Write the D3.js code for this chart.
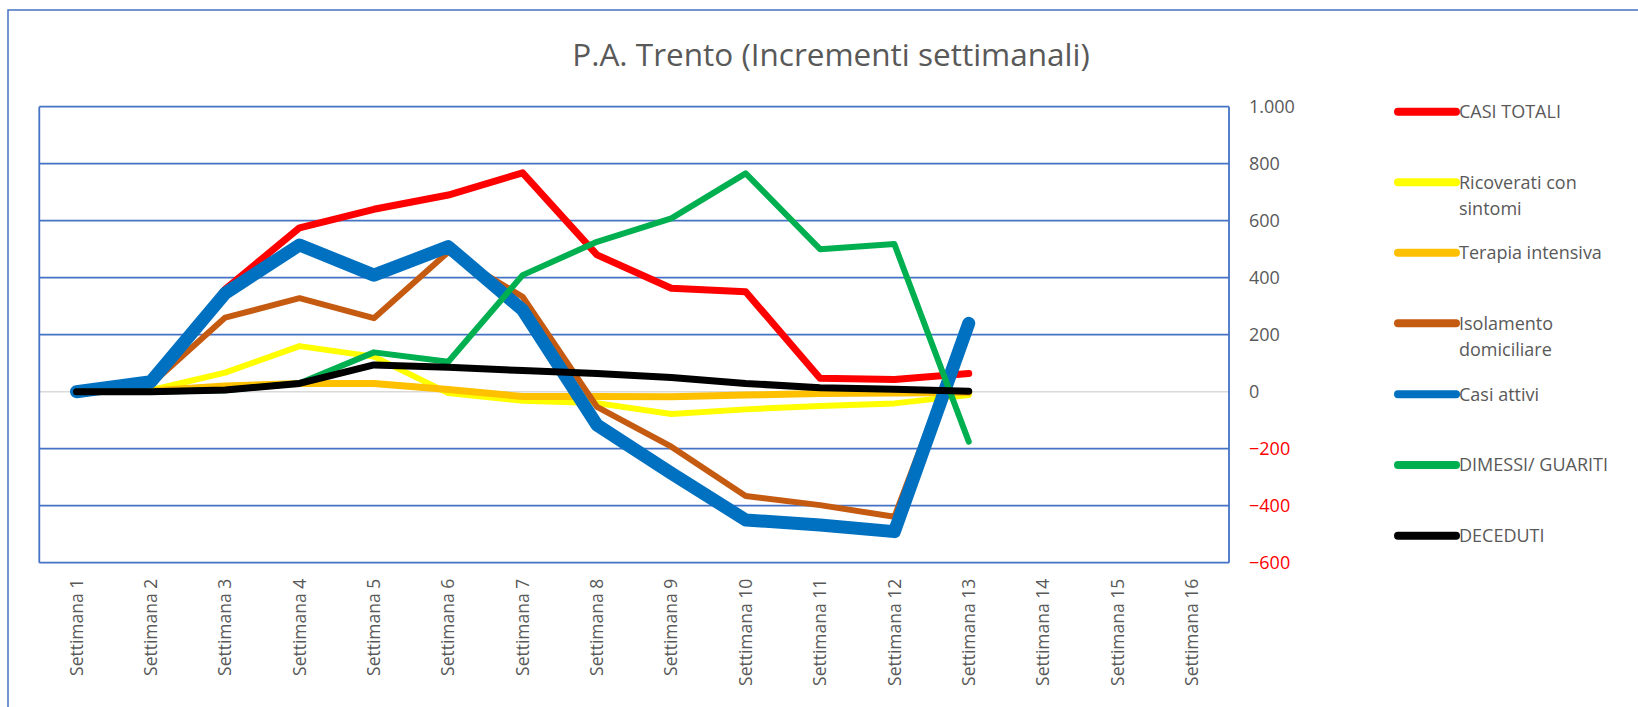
<!DOCTYPE html>
<html>
<head>
<meta charset="utf-8">
<script src="https://cdn.jsdelivr.net/npm/d3@7"></script>
<style>
  body { margin: 0; background: #fff; }
  svg { display: block; font-family: "Open Sans", sans-serif; }
</style>
</head>
<body>
<svg id="chart" width="1638" height="707"></svg>
<script>
// week labels (only the first 13 have data)
const weeks = [
  "Settimana 1", "Settimana 2", "Settimana 3", "Settimana 4",
  "Settimana 5", "Settimana 6", "Settimana 7", "Settimana 8",
  "Settimana 9", "Settimana 10", "Settimana 11", "Settimana 12",
  "Settimana 13", "Settimana 14", "Settimana 15", "Settimana 16"
];
const yTicks = [1000, 800, 600, 400, 200, 0, -200, -400, -600];

const casiTotali = [0, 30, 360, 575, 640, 690, 768, 480, 363, 351, 47, 43, 64];
const ricoverati = [0, 5, 67, 160, 123, -5, -32, -40, -78, -62, -50, -41, -12];
const terapia = [0, 3, 20, 29, 29, 8, -17, -17, -18, -12, -6, -5, -3];
const isolamento = [0, 25, 260, 328, 258, 490, 333, -53, -193, -366, -398, -439, 245];
const casiAttivi = [0, 35, 345, 515, 409, 509, 287, -117, -286, -450, -468, -491, 240];
const dimessi = [0, 0, 5, 30, 138, 105, 409, 526, 608, 766, 500, 518, -175];
const deceduti = [0, 0, 6, 29, 94, 86, 74, 64, 50, 29, 14, 9, 2];

const seriesNames = ["CASI TOTALI", "Ricoverati con sintomi", "Terapia intensiva",
  "Isolamento domiciliare", "Casi attivi", "DIMESSI/ GUARITI", "DECEDUTI"];
const seriesValues = [casiTotali, ricoverati, terapia, isolamento, casiAttivi, dimessi, deceduti];
const colors = ["#FF0000", "#FFFF00", "#FFC000", "#C55A11", "#0070C0", "#00B050", "#000000"];
const widths = [7, 6, 7, 6, 13, 6, 7];

const svg = d3.select("svg#chart");
const blue = "#4472C4";
const textColor = "#595959";
const plot = { left: 39.3, right: 1229, top: 106.7, bottom: 562.7 };

// outer frame
svg.append("rect")
  .attr("x", 8).attr("y", 10)
  .attr("width", 1700).attr("height", 800)
  .attr("fill", "none").attr("stroke", blue).attr("stroke-width", 1.5);

svg.append("text")
  .attr("x", 831).attr("y", 66)
  .attr("text-anchor", "middle")
  .attr("font-size", 31.5)
  .attr("fill", textColor)
  .text("P.A. Trento (Incrementi settimanali)");

const x = d3.scaleBand().domain(weeks).range([plot.left, plot.right]);
const y = d3.scaleLinear().domain([-600, 1000]).range([plot.bottom, plot.top]);

// gridlines
svg.append("g")
  .selectAll("line")
  .data(yTicks)
  .join("line")
  .attr("x1", plot.left).attr("x2", plot.right)
  .attr("y1", (d) => y(d)).attr("y2", (d) => y(d))
  .attr("stroke", (d) => (d === 0 ? "#D9D9D9" : blue))
  .attr("stroke-width", (d) => (d === 0 ? 1.5 : 1.8));

// side borders of the plot
svg.append("g")
  .selectAll("line")
  .data([plot.left, plot.right])
  .join("line")
  .attr("x1", (d) => d).attr("x2", (d) => d)
  .attr("y1", plot.top).attr("y2", plot.bottom)
  .attr("stroke", blue).attr("stroke-width", 1.8);

// right y axis labels
const yAxis = svg.append("g")
  .attr("transform", `translate(${plot.right + 20},0)`)
  .call(d3.axisRight(y).tickValues(yTicks).tickSize(0)
    .tickFormat((d) => d3.format(",")(d).replace(/,/g, ".")));
yAxis.select(".domain").remove();
yAxis.selectAll("text")
  .attr("font-family", "Open Sans")
  .attr("font-size", 18)
  .attr("x", 0)
  .attr("fill", (d) => (d < 0 ? "#FF0000" : textColor));

// bottom axis labels, rotated
const xAxis = svg.append("g")
  .attr("transform", `translate(0,${plot.bottom})`)
  .call(d3.axisBottom(x).tickSize(0));
xAxis.select(".domain").remove();
xAxis.selectAll("text")
  .attr("font-family", "Open Sans")
  .attr("font-size", 17.5)
  .attr("fill", textColor)
  .attr("transform", "rotate(-90)")
  .attr("text-anchor", "end")
  .attr("x", -16)
  .attr("y", 0)
  .attr("dy", "0.35em");

// the series
const line = d3.line()
  .x((d, i) => x(weeks[i]) + x.bandwidth() / 2)
  .y((d) => y(d));

svg.append("g")
  .selectAll("path")
  .data(seriesValues)
  .join("path")
  .attr("d", line)
  .attr("fill", "none")
  .attr("stroke", (_, i) => colors[i])
  .attr("stroke-width", (_, i) => widths[i])
  .attr("stroke-linejoin", "round")
  .attr("stroke-linecap", "round");

// legend
const legendY = [111.7, 182.3, 252.7, 323.3, 394.3, 465, 535.7];
const legend = svg.append("g")
  .selectAll("g")
  .data(seriesNames)
  .join("g")
  .attr("transform", (_, i) => `translate(1398,${legendY[i]})`);
legend.append("line")
  .attr("x1", 0).attr("x2", 58)
  .attr("stroke", (_, i) => colors[i])
  .attr("stroke-width", 8)
  .attr("stroke-linecap", "round");
legend.append("text")
  .attr("x", 61)
  .attr("dy", "0.35em")
  .attr("font-size", 18)
  .attr("fill", textColor)
  .each(function (d) {
    // wrap long names on two lines, as in the source chart
    const parts = d === "Ricoverati con sintomi" ? ["Ricoverati con", "sintomi"]
      : d === "Isolamento domiciliare" ? ["Isolamento", "domiciliare"] : [d];
    d3.select(this).selectAll("tspan")
      .data(parts)
      .join("tspan")
      .attr("x", 61)
      .attr("dy", (_, i) => (i === 0 ? "0.35em" : "26px"))
      .text((t) => t);
  });
</script>
</body>
</html>
